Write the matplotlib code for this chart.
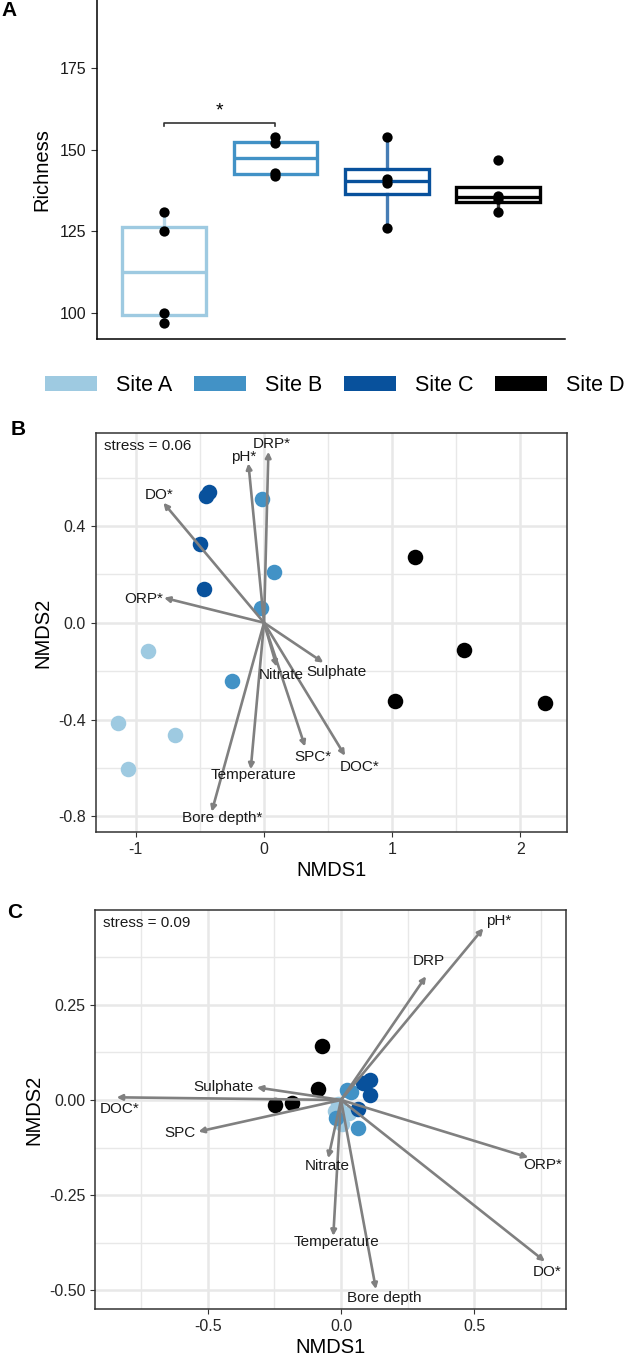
import numpy as np
import matplotlib
matplotlib.use("Agg")
import matplotlib.pyplot as plt
from matplotlib.patches import Patch
from matplotlib.ticker import MultipleLocator

plt.rcParams["font.family"] = ["Liberation Sans", "DejaVu Sans"]

W, H = 631, 1355

sites = ["Site A", "Site B", "Site C", "Site D"]
site_colors = ["#9ecae1", "#4292c6", "#08519c", "#000000"]

# panel A: richness per site
richness = [
    [97, 100, 125, 131],
    [142, 143, 152, 154],
    [126, 140, 141, 154],
    [131, 135, 136, 147],
]

# panel B: NMDS scores per site
b_x = [
    [-0.902, -1.141, -0.694, -1.063],
    [-0.018, 0.078, -0.023, -0.252],
    [-0.455, -0.430, -0.500, -0.468],
    [1.175, 1.560, 1.019, 2.192],
]
b_y = [
    [-0.116, -0.413, -0.464, -0.605],
    [0.510, 0.211, 0.059, -0.240],
    [0.524, 0.540, 0.324, 0.139],
    [0.271, -0.112, -0.324, -0.332],
]
b_vec_names = ["DRP*", "pH*", "DO*", "ORP*", "Sulphate", "Nitrate", "SPC*", "DOC*",
               "Temperature", "Bore depth*"]
b_vec_x = [0.034, -0.122, -0.785, -0.780, 0.463, 0.099, 0.320, 0.632, -0.104, -0.408]
b_vec_y = [0.707, 0.659, 0.496, 0.103, -0.165, -0.182, -0.512, -0.550, -0.606, -0.781]
b_lab_x = [0.060, -0.156, -0.817, -0.940, 0.567, 0.138, 0.385, 0.749, -0.083, -0.330]
b_lab_y = [0.740, 0.686, 0.528, 0.100, -0.205, -0.216, -0.554, -0.595, -0.630, -0.808]

# panel C: NMDS scores per site
c_x = [
    [-0.022, 0.003, 0.030, -0.010],
    [0.038, 0.021, -0.019, 0.063],
    [0.109, 0.081, 0.109, 0.065],
    [-0.072, -0.087, -0.248, -0.183],
]
c_y = [
    [-0.028, -0.062, -0.035, -0.010],
    [0.022, 0.026, -0.048, -0.074],
    [0.052, 0.045, 0.013, -0.024],
    [0.142, 0.029, -0.013, -0.009],
]
c_vec_names = ["pH*", "DRP", "ORP*", "DO*", "Nitrate", "Temperature", "Bore depth",
               "DOC*", "Sulphate", "SPC"]
c_vec_x = [0.534, 0.319, 0.703, 0.765, -0.048, -0.029, 0.131, -0.842, -0.316, -0.535]
c_vec_y = [0.451, 0.325, -0.151, -0.424, -0.153, -0.357, -0.497, 0.007, 0.033, -0.083]
c_lab_x = [0.590, 0.331, 0.757, 0.772, -0.051, -0.016, 0.163, -0.829, -0.442, -0.604]
c_lab_y = [0.470, 0.365, -0.171, -0.453, -0.173, -0.374, -0.521, -0.024, 0.033, -0.087]


def px_rect(left, top, right, bottom):
    return [left / W, 1 - bottom / H, (right - left) / W, (bottom - top) / H]


fig = plt.figure(figsize=(W / 100, H / 100), dpi=100)

# ---------------- panel A ----------------
ax = fig.add_axes(px_rect(97, 0, 565, 339))
pos = np.arange(1, 5)
bp = ax.boxplot(richness, positions=pos, widths=0.75, whis=1.5, showcaps=False,
                showfliers=False, patch_artist=True)
for i, c in enumerate(site_colors):
    bp["boxes"][i].set(facecolor="white", edgecolor=c, linewidth=2.4)
    bp["medians"][i].set(color=c, linewidth=2.4)
    for w in bp["whiskers"][2 * i:2 * i + 2]:
        w.set(color=c, linewidth=2.4, alpha=0.75)
for i, vals in enumerate(richness):
    ax.scatter(np.full(len(vals), pos[i]), vals, s=55, color="black", zorder=3, lw=0)

ax.plot([1, 1, 2, 2], [157.2, 158.4, 158.4, 157.2], color="#333333", lw=1.2)
ax.text(1.5, 159.3, "*", ha="center", va="bottom", fontsize=14)

ax.set_xlim(0.4, 4.6)
ax.set_ylim(92, 196)
ax.set_yticks([100, 125, 150, 175])
ax.set_xticks([])
ax.spines["top"].set_visible(False)
ax.spines["right"].set_visible(False)
ax.spines["left"].set_linewidth(1.1)
ax.spines["bottom"].set_linewidth(1.1)
ax.tick_params(axis="y", labelsize=11.5, length=4, color="#333333", labelcolor="#1a1a1a")
ax.set_ylabel("Richness", fontsize=14.5, labelpad=6)
fig.text(9 / W, 1 - 11 / H, "A", fontsize=15, fontweight="bold", ha="center", va="center")

handles = [Patch(facecolor=c, edgecolor="none", label=s) for s, c in zip(sites, site_colors)]
fig.legend(handles=handles, loc="center", bbox_to_anchor=(335 / W, 1 - 385.5 / H), ncol=4,
           frameon=False, fontsize=15.5, handlelength=2.4, handleheight=0.75,
           handletextpad=0.9, columnspacing=1.0)


def nmds_panel(ax, xs, ys, vx, vy, names, lx, ly, stress):
    for i, c in enumerate(site_colors):
        ax.scatter(xs[i], ys[i], s=125, color=c, lw=0, zorder=2)
    for x, y in zip(vx, vy):
        ax.annotate("", xy=(x, y), xytext=(0, 0),
                    arrowprops=dict(arrowstyle="-|>", color="#808080", lw=1.9,
                                    mutation_scale=8, shrinkA=0, shrinkB=0),
                    zorder=3)
    for n, x, y in zip(names, lx, ly):
        ax.text(x, y, n, ha="center", va="center", fontsize=11, color="#1a1a1a", zorder=4)
    ax.text(0.017, 0.967, stress, transform=ax.transAxes, ha="left", va="center",
            fontsize=11, color="#1a1a1a")
    ax.grid(True, which="major", color="#e8e8e8", lw=1.8, zorder=0)
    ax.grid(True, which="minor", color="#e8e8e8", lw=1.0, zorder=0)
    ax.set_axisbelow(True)
    for s in ax.spines.values():
        s.set_color("#333333")
        s.set_linewidth(1.1)
    ax.tick_params(which="major", labelsize=11.5, length=3.5, color="#333333",
                   labelcolor="#262626")
    ax.tick_params(which="minor", length=0)
    ax.set_xlabel("NMDS1", fontsize=14.5, labelpad=3)
    ax.set_ylabel("NMDS2", fontsize=14.5, labelpad=4)


# ---------------- panel B ----------------
ax = fig.add_axes(px_rect(95.7, 433.3, 566.7, 832))
nmds_panel(ax, b_x, b_y, b_vec_x, b_vec_y, b_vec_names, b_lab_x, b_lab_y, "stress = 0.06")
ax.set_xlim(-1.313, 2.361)
ax.set_ylim(-0.865, 0.783)
ax.xaxis.set_minor_locator(MultipleLocator(0.5))
ax.yaxis.set_minor_locator(MultipleLocator(0.2))
ax.set_xticks([-1, 0, 1, 2])
ax.set_xticklabels(["-1", "0", "1", "2"])
ax.set_yticks([-0.8, -0.4, 0.0, 0.4])
ax.set_yticklabels(["-0.8", "-0.4", "0.0", "0.4"])
fig.text(18 / W, 1 - 430 / H, "B", fontsize=15, fontweight="bold", ha="center", va="center")

# ---------------- panel C ----------------
ax = fig.add_axes(px_rect(95, 910, 565.7, 1309))
nmds_panel(ax, c_x, c_y, c_vec_x, c_vec_y, c_vec_names, c_lab_x, c_lab_y, "stress = 0.09")
ax.set_xlim(-0.923, 0.843)
ax.set_ylim(-0.549, 0.499)
ax.xaxis.set_minor_locator(MultipleLocator(0.25))
ax.yaxis.set_minor_locator(MultipleLocator(0.125))
ax.set_xticks([-0.5, 0.0, 0.5])
ax.set_xticklabels(["-0.5", "0.0", "0.5"])
ax.set_yticks([-0.5, -0.25, 0.0, 0.25])
ax.set_yticklabels(["-0.50", "-0.25", "0.00", "0.25"])
fig.text(15 / W, 1 - 912 / H, "C", fontsize=15, fontweight="bold", ha="center", va="center")

fig.savefig("out.png", dpi=100)
